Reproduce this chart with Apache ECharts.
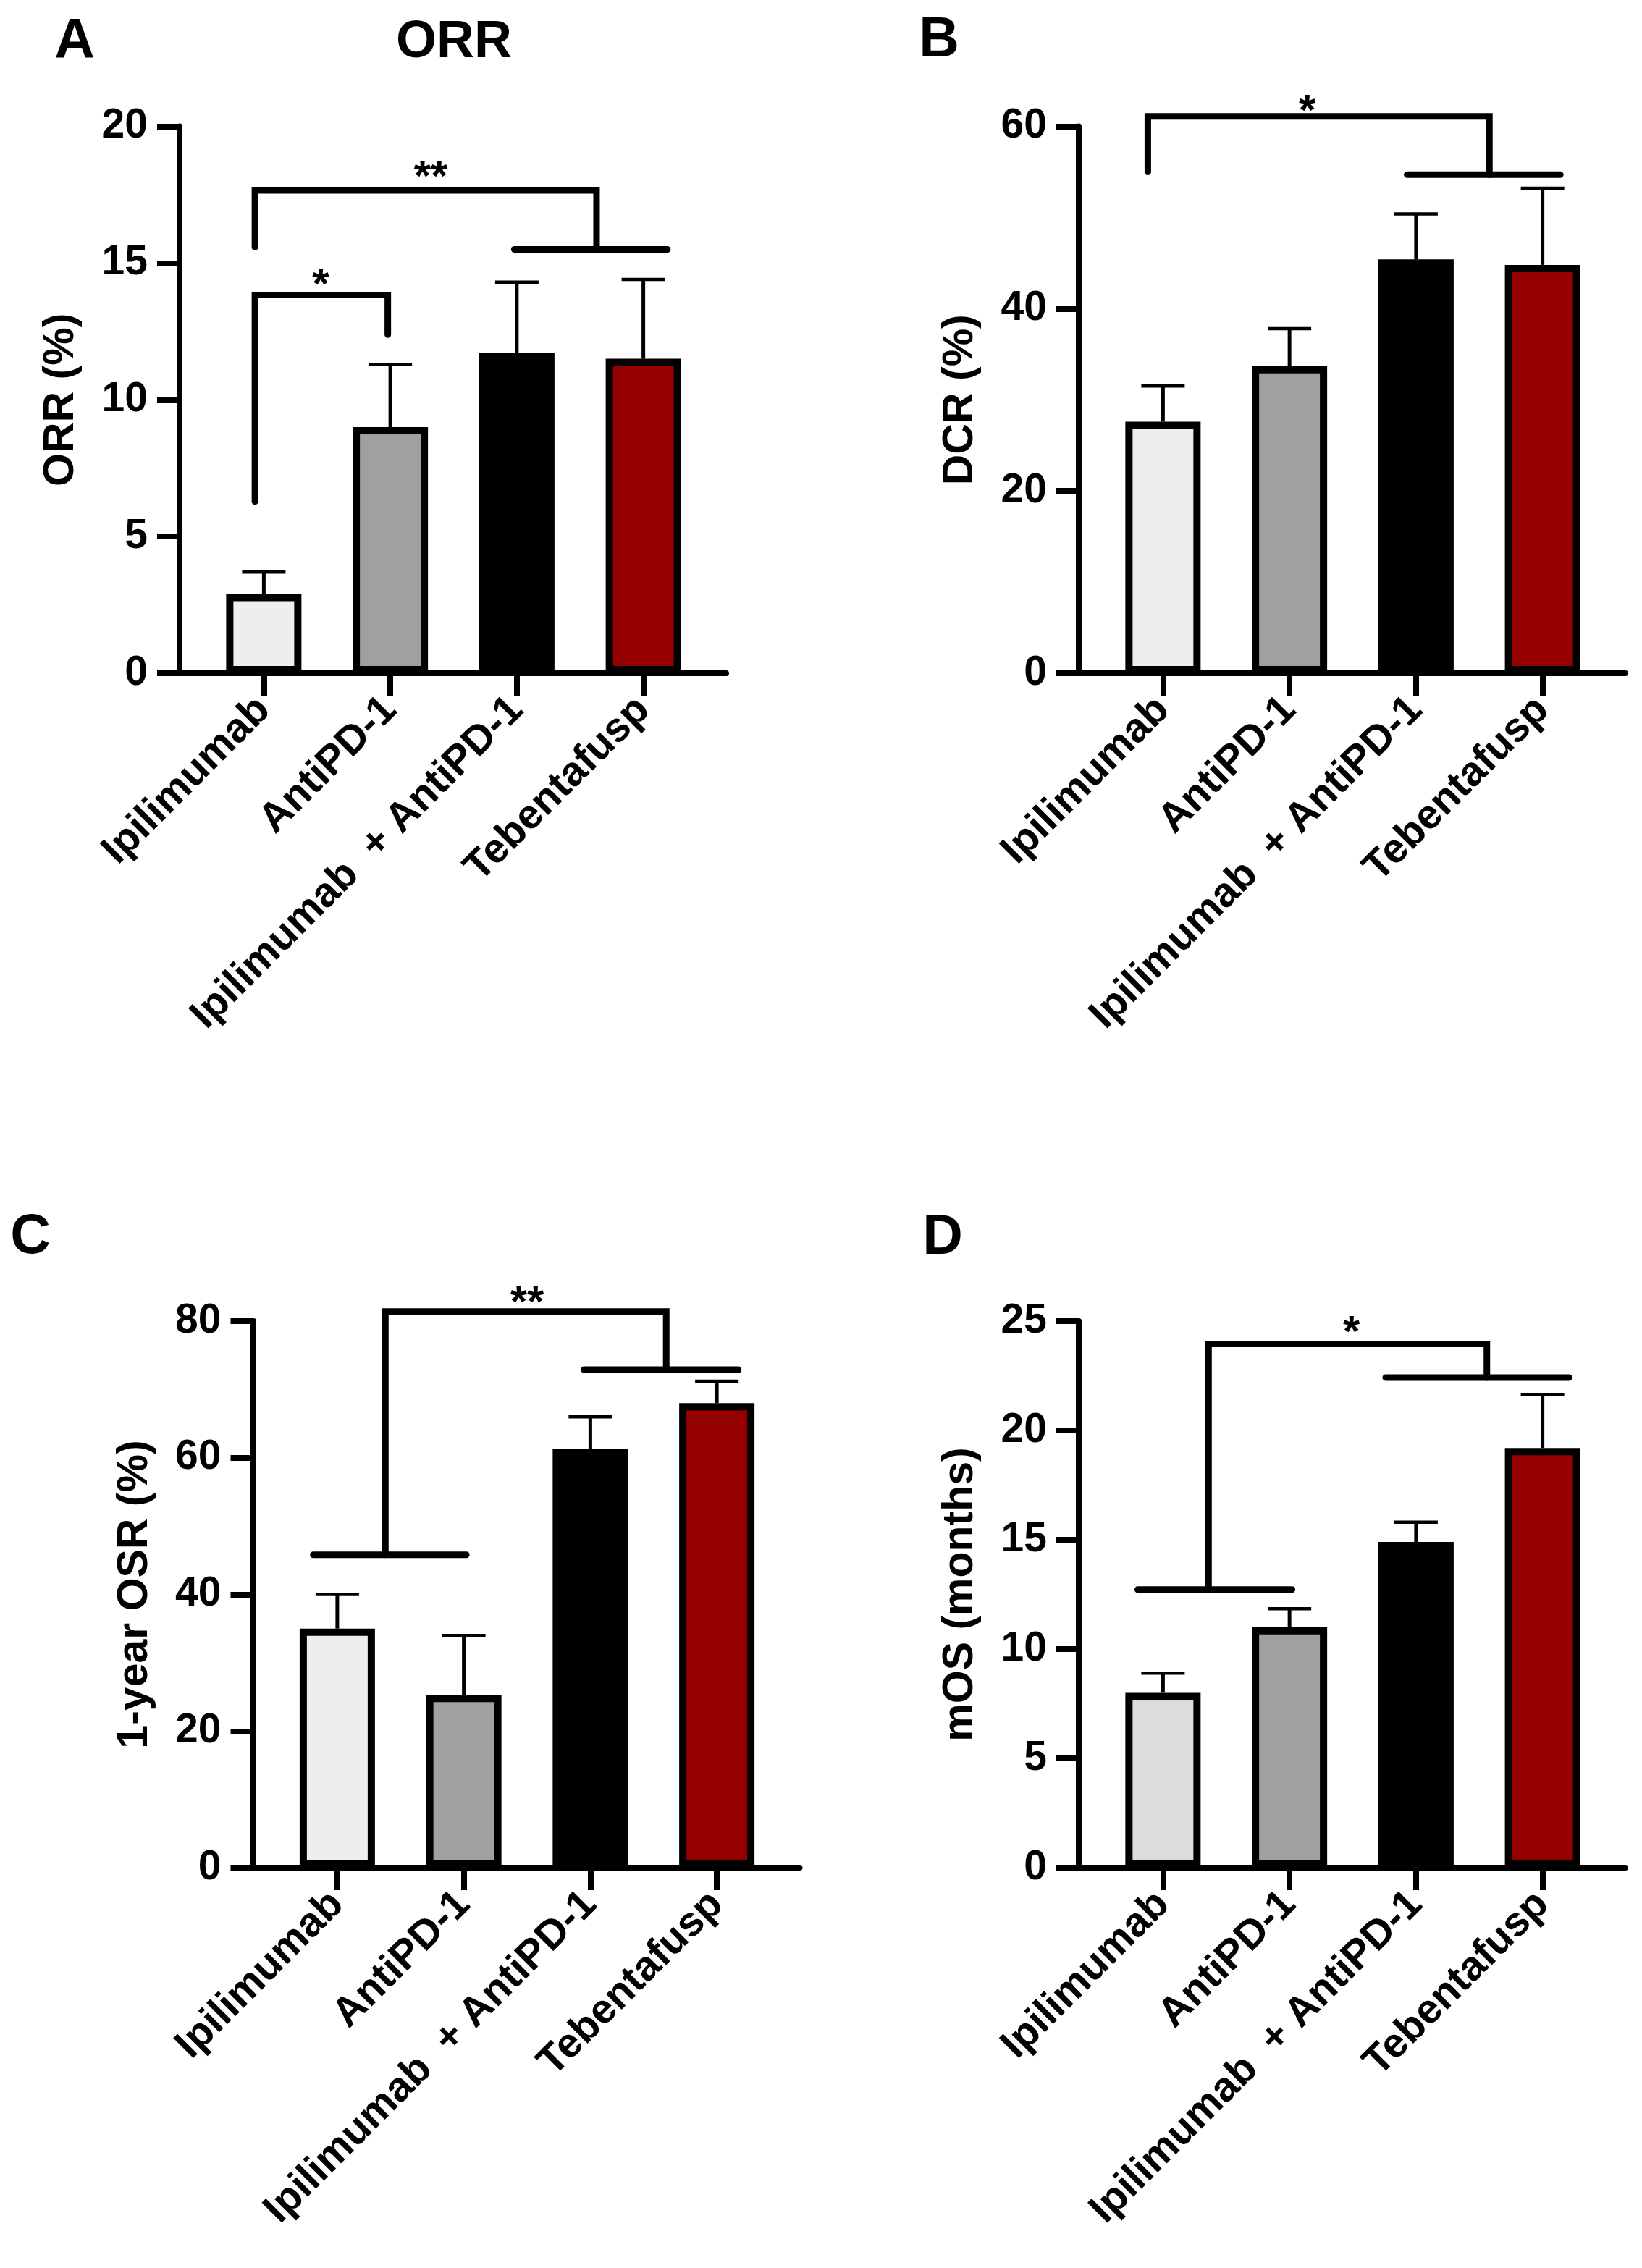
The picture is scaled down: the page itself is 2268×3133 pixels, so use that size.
<!DOCTYPE html>
<html><head><meta charset="utf-8">
<script src="https://cdn.jsdelivr.net/npm/echarts@6/dist/echarts.min.js"></script>
<style>html,body{margin:0;padding:0;background:#fff}#c{width:2268px;height:3133px}</style>
</head><body><div id="c"></div>
<script>
// ---------- data ----------
const categories = ['Ipilimumab', 'AntiPD-1', 'Ipilimumab  + AntiPD-1', 'Tebentafusp'];

const orrMean = [2.9, 9.0, 11.7, 11.5];
const orrErr  = [0.8, 2.3, 2.6, 2.9];
const orrTicks = [0, 5, 10, 15, 20];

const dcrMean = [27.6, 33.7, 45.4, 44.8];
const dcrErr  = [3.9, 4.1, 5.0, 8.4];
const dcrTicks = [0, 20, 40, 60];

const osrMean = [35.0, 25.3, 61.3, 68.0];
const osrErr  = [5.0, 8.7, 4.7, 3.2];
const osrTicks = [0, 20, 40, 60, 80];

const mosMean = [8.0, 11.0, 14.9, 19.2];
const mosErr  = [0.9, 0.85, 0.9, 2.45];
const mosTicks = [0, 5, 10, 15, 20, 25];

// significance brackets: polylines in (category index, value) units
const orrBrackets = [
  [[-0.07, 6.28], [-0.07, 13.83], [0.98, 13.83], [0.98, 12.38]],
  [[-0.07, 15.58], [-0.07, 17.66], [2.63, 17.66], [2.63, 15.5]],
  [[1.98, 15.5], [3.19, 15.5]]
];
const orrStars = [['*', 0.45, 14.55], ['**', 1.32, 18.5]];

const dcrBrackets = [
  [[-0.12, 55.0], [-0.12, 61.1], [2.58, 61.1], [2.58, 54.7]],
  [[1.93, 54.7], [3.14, 54.7]]
];
const dcrStars = [['*', 1.14, 62.7]];

const osrBrackets = [
  [[-0.19, 45.8], [1.02, 45.8]],
  [[0.38, 45.8], [0.38, 81.4], [2.6, 81.4], [2.6, 72.9]],
  [[1.95, 72.9], [3.17, 72.9]]
];
const osrStars = [['**', 1.5, 84.1]];

const mosBrackets = [
  [[-0.2, 12.72], [1.02, 12.72]],
  [[0.36, 12.72], [0.36, 23.96], [2.56, 23.96], [2.56, 22.42]],
  [[1.76, 22.42], [3.21, 22.42]]
];
const mosStars = [['*', 1.49, 24.93]];

// ---------- layout & style ----------
const FONT = '"Liberation Sans", Arial, Helvetica, sans-serif';
const colorsABC = ['#EEEEEE', '#A0A0A0', '#000000', '#940000'];
const colorsD = ['#DCDCDC', '#A0A0A0', '#000000', '#940000'];

const panels = [
  {letter: 'A', lx: 103, ly: 59, title: 'ORR', tx: 627, ty: 59, axisX: 248, top: 174.5, bottom: 930,
   name: 'ORR (%)', mean: orrMean, err: orrErr, ticks: orrTicks, brackets: orrBrackets, stars: orrStars, colors: colorsABC},
  {letter: 'B', lx: 1297, ly: 57, axisX: 1490, top: 174.5, bottom: 930,
   name: 'DCR (%)', mean: dcrMean, err: dcrErr, ticks: dcrTicks, brackets: dcrBrackets, stars: dcrStars, colors: colorsABC},
  {letter: 'C', lx: 42, ly: 1710, axisX: 349.5, top: 1825, bottom: 2580,
   name: '1-year OSR (%)', mean: osrMean, err: osrErr, ticks: osrTicks, brackets: osrBrackets, stars: osrStars, colors: colorsABC},
  {letter: 'D', lx: 1302, ly: 1711, axisX: 1490, top: 1825, bottom: 2580,
   name: 'mOS (months)', mean: mosMean, err: mosErr, ticks: mosTicks, brackets: mosBrackets, stars: mosStars, colors: colorsD}
];

const AXIS_W = 755, BAND_OFF = 29, BAND_W = 699;

const grid = [], xAxis = [], yAxis = [], series = [], graphic = [];

panels.forEach((p, k) => {
  const h = p.bottom - p.top;
  const tmin = p.ticks[0], tmax = p.ticks[p.ticks.length - 1], tint = p.ticks[1] - p.ticks[0];
  const gOut = grid.length;
  grid.push({left: p.axisX, top: p.top, width: AXIS_W, height: h, containLabel: false});
  const gIn = grid.length;
  grid.push({left: p.axisX + BAND_OFF, top: p.top, width: BAND_W, height: h, containLabel: false});

  // outer axes (lines, y ticks, y labels)
  xAxis.push({gridIndex: gOut, type: 'value', min: 0, max: 1,
    axisLine: {show: true, onZero: false, lineStyle: {color: '#000', width: 8}},
    axisTick: {show: false}, axisLabel: {show: false}, splitLine: {show: false}});
  yAxis.push({gridIndex: gOut, type: 'value', min: tmin, max: tmax, interval: tint,
    axisLine: {show: true, lineStyle: {color: '#000', width: 8}},
    axisTick: {show: true, inside: false, length: 31, lineStyle: {color: '#000', width: 8}},
    axisLabel: {margin: 44, fontSize: 57, fontWeight: 'bold', color: '#000', fontFamily: FONT},
    splitLine: {show: false},
    name: p.name, nameLocation: 'middle', nameGap: 163, nameRotate: 90,
    nameTextStyle: {fontSize: 59, fontWeight: 'bold', color: '#000', fontFamily: FONT, align: 'center', verticalAlign: 'middle'}});

  // inner axes
  const xCat = xAxis.length;
  xAxis.push({gridIndex: gIn, type: 'category', data: categories, boundaryGap: true,
    axisLine: {show: false},
    axisTick: {show: true, alignWithLabel: true, length: 31, lineStyle: {color: '#000', width: 8}},
    axisLabel: {interval: 0, rotate: 45, margin: 42, fontSize: 57, fontWeight: 'bold', color: '#000', fontFamily: FONT},
    splitLine: {show: false}});
  const xVal = xAxis.length;
  xAxis.push({gridIndex: gIn, type: 'value', min: -0.5, max: 3.5, show: false});
  const yIn = yAxis.length;
  yAxis.push({gridIndex: gIn, type: 'value', min: tmin, max: tmax, show: false});

  // error bars
  series.push({type: 'custom', xAxisIndex: xVal, yAxisIndex: yIn, z: 2, clip: false, silent: true,
    data: p.mean.map((v, i) => [i, v, v + p.err[i]]),
    renderItem: (params, api) => {
      const a = api.coord([api.value(0), api.value(1)]);
      const b = api.coord([api.value(0), api.value(2)]);
      return {type: 'group', children: [
        {type: 'line', shape: {x1: a[0], y1: a[1], x2: b[0], y2: b[1]}, style: {stroke: '#000', lineWidth: 5}},
        {type: 'line', shape: {x1: b[0] - 30, y1: b[1], x2: b[0] + 30, y2: b[1]}, style: {stroke: '#000', lineWidth: 4.5}}
      ]};
    }});

  // bars
  series.push({type: 'bar', xAxisIndex: xCat, yAxisIndex: yIn, z: 3, silent: true, barWidth: 104,
    itemStyle: {borderColor: '#000', borderWidth: 10},
    data: p.mean.map((v, i) => ({value: v, itemStyle: {color: p.colors[i]}}))});

  // brackets
  const br = p.brackets;
  series.push({type: 'custom', xAxisIndex: xVal, yAxisIndex: yIn, z: 4, clip: false, silent: true,
    data: br.map(b => b[0]),
    renderItem: (params, api) => {
      const pts = br[params.dataIndex].map(pt => api.coord(pt));
      return {type: 'polyline', shape: {points: pts},
        style: {stroke: '#000', lineWidth: 9, fill: null, lineCap: 'round', lineJoin: 'miter'}};
    }});

  // stars
  const st = p.stars;
  series.push({type: 'custom', xAxisIndex: xVal, yAxisIndex: yIn, z: 5, clip: false, silent: true,
    data: st.map(s => [s[1], s[2]]),
    renderItem: (params, api) => {
      const c = api.coord([api.value(0), api.value(1)]);
      return {type: 'text', x: c[0], y: c[1] + 15,
        style: {text: st[params.dataIndex][0], fill: '#000', fontSize: 60, fontWeight: 'bold', fontFamily: FONT,
          align: 'center', verticalAlign: 'middle', textAlign: 'center', textVerticalAlign: 'middle'}};
    }});

  graphic.push({type: 'text', x: p.lx, y: p.ly,
    style: {text: p.letter, fill: '#000', fontSize: 77, fontWeight: 'bold', fontFamily: FONT, align: 'center', verticalAlign: 'middle'}});
  if (p.title) {
    graphic.push({type: 'text', x: p.tx, y: p.ty,
      style: {text: p.title, fill: '#000', fontSize: 72, fontWeight: 'bold', fontFamily: FONT, align: 'center', verticalAlign: 'middle'}});
  }
});

const chart = echarts.init(document.getElementById('c'), null, {renderer: 'canvas'});
chart.setOption({backgroundColor: '#fff', animation: false, grid, xAxis, yAxis, series, graphic});
</script></body></html>
